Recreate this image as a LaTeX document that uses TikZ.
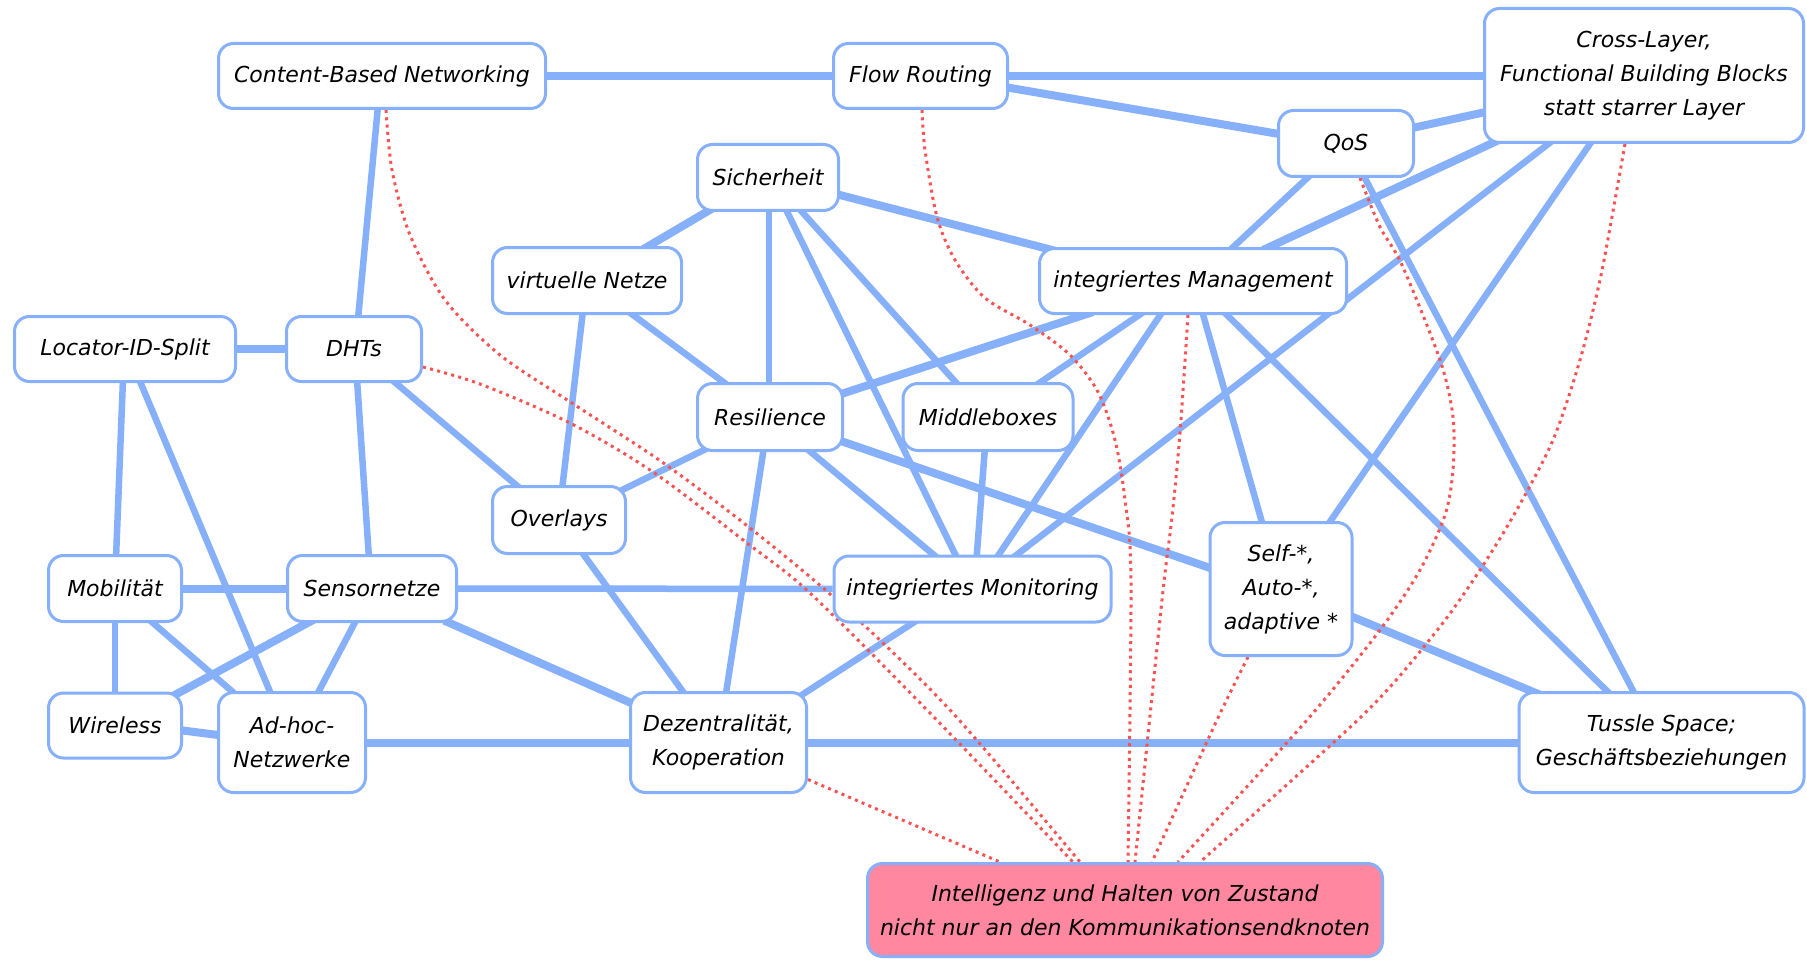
\documentclass[tikz,border=0pt]{standalone}
\usepackage{fontspec}
\setmainfont{DejaVu Sans}

\definecolor{edgeblue}{RGB}{135,176,250}
\definecolor{dotred}{RGB}{250,82,82}
\definecolor{pinkfill}{RGB}{255,135,160}

\pgfdeclarelayer{edgelayer}
\pgfdeclarelayer{dotlayer}
\pgfsetlayers{edgelayer,dotlayer,main}

\begin{document}
\begin{tikzpicture}[x=1pt,y=-1pt,
  topic/.style={draw=edgeblue, line width=3pt, rounded corners=15pt, fill=white,
    align=center, inner sep=0pt, font=\itshape\fontsize{22}{34}\selectfont},
  bond/.style={draw=edgeblue, line width=6.5pt},
  bondthick/.style={draw=edgeblue, line width=8pt},
  hint/.style={draw=dotred, line width=3pt, dash pattern=on 3pt off 4.3pt},
]
\useasboundingbox (0,0) rectangle (1807,960);

% ---------- topics ----------
\node[topic, minimum width=327, minimum height=65] (cbn) at (382,76) {Content-Based Networking};
\node[topic, minimum width=174, minimum height=65] (flow) at (920.5,76) {Flow Routing};
\node[topic, minimum width=319, minimum height=134] (cl) at (1644,75.5) {Cross-Layer,\\Functional Building Blocks\\statt starrer Layer};
\node[topic, minimum width=135, minimum height=66] (qos) at (1346,143.5) {QoS};
\node[topic, minimum width=141, minimum height=66] (sich) at (768,177.5) {Sicherheit};
\node[topic, minimum width=189, minimum height=66] (vn) at (587,280.5) {virtuelle Netze};
\node[topic, minimum width=307, minimum height=65] (mgmt) at (1193,281) {integriertes Management};
\node[topic, minimum width=221, minimum height=65] (loc) at (125,349) {Locator-ID-Split};
\node[topic, minimum width=135, minimum height=65] (dht) at (354,349) {DHTs};
\node[topic, minimum width=145, minimum height=67] (res) at (770,417) {Resilience};
\node[topic, minimum width=170, minimum height=67] (mid) at (988,417) {Middleboxes};
\node[topic, minimum width=133, minimum height=67] (ovl) at (559,520) {Overlays};
\node[topic, minimum width=133, minimum height=66] (mob) at (115,588.5) {Mobilität};
\node[topic, minimum width=169, minimum height=66] (sens) at (372,588.5) {Sensornetze};
\node[topic, minimum width=277, minimum height=66] (mon) at (972.5,589) {integriertes Monitoring};
\node[topic, minimum width=142, minimum height=133] (self) at (1281,589) {Self-*,\\Auto-*,\\adaptive *};
\node[topic, minimum width=133, minimum height=65] (wl) at (115,725.5) {Wireless};
\node[topic, minimum width=147, minimum height=100] (adhoc) at (292,742.5) {Ad-hoc-\\Netzwerke};
\node[topic, minimum width=176, minimum height=100] (dez) at (718.5,742.5) {Dezentralität,\\Kooperation};
\node[topic, minimum width=285, minimum height=100] (tussle) at (1661.5,742.5) {Tussle Space;\\Geschäftsbeziehungen};
\node[topic, fill=pinkfill, minimum width=515, minimum height=93] (intel) at (1125,910) {Intelligenz und Halten von Zustand\\nicht nur an den Kommunikationsendknoten};

% ---------- white page ----------
\begin{pgfonlayer}{edgelayer}
\fill[white] (0,0) rectangle (1807,960);

% ---------- relations ----------
\draw[bondthick] (cbn) -- (flow);
\draw[bondthick] (flow) -- (flow -| cl);
\draw[bondthick] ([shift={(84,11)}]flow.center) -- ([shift={(-64,-9)}]qos.center);
\draw[bondthick] ([shift={(64,-15)}]qos.center) -- ([shift={(-156,36)}]cl.center);
\draw[bond] ([shift={(-4,30)}]cbn.center) -- ([shift={(4,-30)}]dht.center);
\draw[bondthick] (loc) -- (dht);
\draw[bondthick] ([shift={(-54,30)}]sich.center) -- ([shift={(54,-30)}]vn.center);
\draw[bond] ([shift={(1,30)}]sich.center) -- ([shift={(-1,-30)}]res.center);
\draw[bond] ([shift={(30,30)}]sich.center) -- ([shift={(-28,-30)}]mid.center);
\draw[bond] ([shift={(17,30)}]sich.center) -- ([shift={(-15,-30)}]mon.center);
\draw[bondthick] ([shift={(66,16)}]sich.center) -- ([shift={(-137,-30)}]mgmt.center);
\draw[bond] ([shift={(40,30)}]vn.center) -- ([shift={(-40,-30)}]res.center);
\draw[bond] ([shift={(-4,30)}]vn.center) -- ([shift={(3,-30)}]ovl.center);
\draw[bond] ([shift={(37,30)}]dht.center) -- ([shift={(-37,-30)}]ovl.center);
\draw[bond] ([shift={(3,30)}]dht.center) -- ([shift={(-3,-30)}]sens.center);
\draw[bond] ([shift={(-60,30)}]res.center) -- ([shift={(61,-29)}]ovl.center);
\draw[bondthick] ([shift={(68,-22)}]res.center) -- ([shift={(-100,31)}]mgmt.center);
\draw[bond] ([shift={(-6,30)}]res.center) -- ([shift={(7,-46)}]dez.center);
\draw[bond] ([shift={(36,31)}]res.center) -- ([shift={(-35,-31)}]mon.center);
\draw[bondthick] ([shift={(68,23)}]res.center) -- ([shift={(-68,-20)}]self.center);
\draw[bond] ([shift={(-3,30)}]mid.center) -- ([shift={(4,-30)}]mon.center);
\draw[bond] ([shift={(47,-31)}]mid.center) -- ([shift={(-48,30)}]mgmt.center);
\draw[bond] ([shift={(-30,30)}]mgmt.center) -- ([shift={(24,-31)}]mon.center);
\draw[bond] ([shift={(9,30)}]mgmt.center) -- ([shift={(-18,-63)}]self.center);
\draw[bond] ([shift={(30,30)}]mgmt.center) -- ([shift={(-49,-46)}]tussle.center);
\draw[bond] ([shift={(36,-30)}]mgmt.center) -- ([shift={(-35,31)}]qos.center);
\draw[bondthick] ([shift={(70,-31)}]mgmt.center) -- ([shift={(-144,64)}]cl.center);
\draw[bond] ([shift={(-90,64)}]cl.center) -- ([shift={(40,-31)}]mon.center);
\draw[bond] ([shift={(-51,64)}]cl.center) -- ([shift={(46,-63)}]self.center);
\draw[bond] ([shift={(17,31)}]qos.center) -- ([shift={(-26,-47)}]tussle.center);
\draw[bondthick] ([shift={(67,26)}]self.center) -- ([shift={(-122,-48)}]tussle.center);
\draw[bond] ([shift={(-2,30)}]loc.center) -- ([shift={(1,-30)}]mob.center);
\draw[bond] ([shift={(14,30)}]loc.center) -- ([shift={(-20,-46)}]adhoc.center);
\draw[bondthick] (mob) -- (sens);
\draw[bond] (mob) -- (wl);
\draw[bond] ([shift={(34,31)}]mob.center) -- ([shift={(-54,-46)}]adhoc.center);
\draw[bondthick] ([shift={(-58,31)}]sens.center) -- ([shift={(57,-29)}]wl.center);
\draw[bond] ([shift={(-15,30)}]sens.center) -- ([shift={(24,-46)}]adhoc.center);
\draw[bondthick] ([shift={(72,32)}]sens.center) -- ([shift={(-84,-38)}]dez.center);
\draw[bond] (sens) -- (mon);
\draw[bond] ([shift={(22,31)}]ovl.center) -- ([shift={(-32,-46)}]dez.center);
\draw[bond] ([shift={(-55,31)}]mon.center) -- ([shift={(77,-43.5)}]dez.center);
\draw[bondthick] ([shift={(60,4)}]wl.center) -- ([shift={(-70,-7)}]adhoc.center);
\draw[bondthick] (adhoc) -- (dez);
\draw[bondthick] (dez) -- (tussle);
\end{pgfonlayer}

% ---------- dotted hints towards the state node ----------
\begin{pgfonlayer}{dotlayer}
\draw[hint] plot[smooth] coordinates {([xshift=4]cbn.south) (392,170) (410,235) (445,300)
  (500,355) (575,405) (662,462) (750,528) (840,603) (950,710) ([xshift=-45]intel.north)};
\draw[hint] plot[smooth] coordinates {([yshift=-18]dht.east) (480,384) (570,423) (653,472)
  (747,543) (810,593) (927,710) ([xshift=-52]intel.north)};
\draw[hint] plot[smooth] coordinates {([xshift=1.5]flow.south) (925,150) (937,217) (955,260)
  (985,298) (1030,325) (1070,355) (1098,392) (1115,440) (1125,500) (1131,580) ([xshift=3]intel.north)};
\draw[hint] plot[smooth] coordinates {([xshift=-5]mgmt.south) (1180,433) (1172,517)
  (1162,600) ([xshift=10]intel.north)};
\draw[hint] plot[smooth] coordinates {([xshift=-33]self.south) (1217,720) ([xshift=27]intel.north)};
\draw[hint] plot[smooth] coordinates {([xshift=14]qos.south) (1380,227) (1402,265) (1440,360)
  (1453,417) (1453,470) (1445,515) (1420,570) (1380,630) (1307,720) ([xshift=53]intel.north)};
\draw[hint] plot[smooth] coordinates {([xshift=-19]cl.south) (1615,200) (1600,280) (1580,360)
  (1553,440) (1515,513) (1478,573) (1435,633) (1363,715) ([xshift=75]intel.north)};
\draw[hint] ([yshift=-37]dez.east) -- ([xshift=-125]intel.north);
\end{pgfonlayer}
\end{tikzpicture}
\end{document}
